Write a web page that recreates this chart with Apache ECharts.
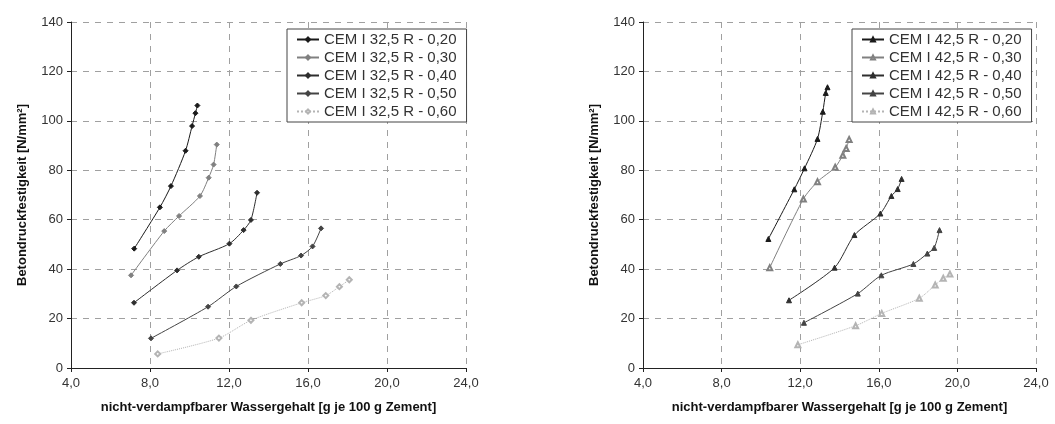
<!DOCTYPE html>
<html>
<head>
<meta charset="utf-8">
<script src="https://cdn.jsdelivr.net/npm/echarts@6/dist/echarts.min.js"></script>
<style>
  html, body { margin: 0; padding: 0; background: #fff; }
  #chart { width: 1055px; height: 424px; }
</style>
</head>
<body>
<div id="chart"></div>
<script>
// Non-evaporable water content [g / 100 g cement] vs. concrete compressive strength [N/mm²]
const xTitle = 'nicht-verdampfbarer Wassergehalt [g je 100 g Zement]';
const yTitle = 'Betondruckfestigkeit [N/mm²]';

// CEM I 32,5 R, grouped by w/c ratio
const names325 = ['CEM I 32,5 R - 0,20', 'CEM I 32,5 R - 0,30', 'CEM I 32,5 R - 0,40', 'CEM I 32,5 R - 0,50', 'CEM I 32,5 R - 0,60'];
const c325_020 = [[7.2, 48.3], [8.5, 65.0], [9.06, 73.6], [9.8, 87.9], [10.13, 97.9], [10.3, 103.1], [10.4, 106.2]];
const c325_030 = [[7.04, 37.5], [8.72, 55.4], [9.47, 61.5], [10.53, 69.6], [10.97, 77.0], [11.22, 82.3], [11.38, 90.4]];
const c325_040 = [[7.19, 26.4], [9.37, 39.5], [10.47, 45.0], [12.02, 50.3], [12.74, 55.8], [13.11, 59.9], [13.42, 70.9]];
const c325_050 = [[8.05, 12.0], [10.94, 24.8], [12.37, 33.0], [14.6, 42.1], [15.65, 45.5], [16.23, 49.2], [16.66, 56.5]];
const c325_060 = [[8.39, 5.7], [11.49, 12.1], [13.11, 19.3], [15.68, 26.4], [16.9, 29.3], [17.59, 32.9], [18.09, 35.7]];

// CEM I 42,5 R, grouped by w/c ratio
const names425 = ['CEM I 42,5 R - 0,20', 'CEM I 42,5 R - 0,30', 'CEM I 42,5 R - 0,40', 'CEM I 42,5 R - 0,50', 'CEM I 42,5 R - 0,60'];
const c425_020 = [[10.38, 52.2], [11.7, 72.3], [12.22, 80.8], [12.88, 92.7], [13.15, 103.7], [13.3, 111.3], [13.39, 113.6]];
const c425_030 = [[10.45, 40.6], [12.16, 68.4], [12.88, 75.4], [13.78, 81.2], [14.17, 86.1], [14.34, 88.8], [14.49, 92.5]];
const c425_040 = [[11.43, 27.4], [13.75, 40.6], [14.76, 53.8], [16.08, 62.5], [16.64, 69.6], [16.96, 72.4], [17.16, 76.5]];
const c425_050 = [[12.19, 18.3], [14.93, 30.1], [16.13, 37.5], [17.76, 42.1], [18.47, 46.3], [18.82, 48.6], [19.09, 55.8]];
const c425_060 = [[11.88, 9.4], [14.82, 17.1], [16.15, 22.1], [18.06, 28.2], [18.87, 33.6], [19.28, 36.3], [19.62, 38.0]];

const xTicks = { min: 4, max: 24, interval: 4 };
const yTicks = { min: 0, max: 140, interval: 20 };

const FONT = '"Liberation Sans", Arial, sans-serif';
const lineColors = ['#1a1a1a', '#808080', '#2e2e2e', '#444444', '#b4b4b4'];
const lineTypes = ['solid', 'solid', 'solid', 'solid', 'dotted'];
const symbols325 = ['diamond', 'diamond', 'diamond', 'diamond', 'emptyDiamond'];
const symbols425 = ['triangle', 'emptyTriangle', 'triangle', 'triangle', 'emptyTriangle'];

function xAxis(gridIndex) {
  return {
    type: 'value', gridIndex,
    min: xTicks.min, max: xTicks.max, interval: xTicks.interval,
    name: xTitle, nameLocation: 'middle', nameGap: 33,
    nameTextStyle: { fontFamily: FONT, fontSize: 13, fontWeight: 'bold', color: '#111' },
    axisLine: { lineStyle: { color: '#222', width: 1 } },
    axisTick: { show: true, length: 4, lineStyle: { color: '#222' } },
    axisLabel: { fontFamily: FONT, fontSize: 13, color: '#333', margin: 9,
      formatter: v => v.toFixed(1).replace('.', ',') },
    splitLine: { show: true, lineStyle: { color: '#a0a0a0', type: [6, 6], width: 1 } }
  };
}
function yAxis(gridIndex) {
  return {
    type: 'value', gridIndex,
    min: yTicks.min, max: yTicks.max, interval: yTicks.interval,
    name: yTitle, nameLocation: 'middle', nameGap: 42, nameRotate: 90,
    nameTextStyle: { fontFamily: FONT, fontSize: 13, fontWeight: 'bold', color: '#111' },
    axisLine: { show: true, lineStyle: { color: '#222', width: 1 } },
    axisTick: { show: true, length: 4, lineStyle: { color: '#222' } },
    axisLabel: { fontFamily: FONT, fontSize: 13, color: '#333', margin: 8 },
    splitLine: { show: true, lineStyle: { color: '#a0a0a0', type: [6, 6], width: 1 } }
  };
}
function makeSeries(names, datasets, symbols, idx, size) {
  return datasets.map((d, i) => ({
    type: 'line', name: names[i], data: d,
    xAxisIndex: idx, yAxisIndex: idx,
    smooth: 0.25,
    symbol: symbols[i], symbolSize: size,
    showAllSymbol: true,
    lineStyle: { color: lineColors[i], width: 1, type: lineTypes[i] },
    itemStyle: { color: lineColors[i], borderColor: lineColors[i], borderWidth: 1 },
    emphasis: { disabled: true },
    animation: false
  }));
}
function legend(names, left) {
  return {
    data: names, orient: 'vertical', left, top: 29,
    backgroundColor: '#fff', borderColor: '#444', borderWidth: 1,
    padding: [3, 10, 3, 9], itemGap: 3, itemWidth: 22, itemHeight: 5,
    textStyle: { fontFamily: FONT, fontSize: 15, color: '#333' },
    selectedMode: false
  };
}

const chart = echarts.init(document.getElementById('chart'), null, { renderer: 'canvas' });
chart.setOption({
  backgroundColor: '#fff',
  animation: false,
  grid: [
    { left: 71, right: 589, top: 22, bottom: 56 },
    { left: 643, right: 19, top: 22, bottom: 56 }
  ],
  xAxis: [xAxis(0), xAxis(1)],
  yAxis: [yAxis(0), yAxis(1)],
  legend: [legend(names325, 287), legend(names425, 852)],
  series: [
    ...makeSeries(names325, [c325_020, c325_030, c325_040, c325_050, c325_060], symbols325, 0, 5),
    ...makeSeries(names425, [c425_020, c425_030, c425_040, c425_050, c425_060], symbols425, 1, 5)
  ]
});
</script>
</body>
</html>
